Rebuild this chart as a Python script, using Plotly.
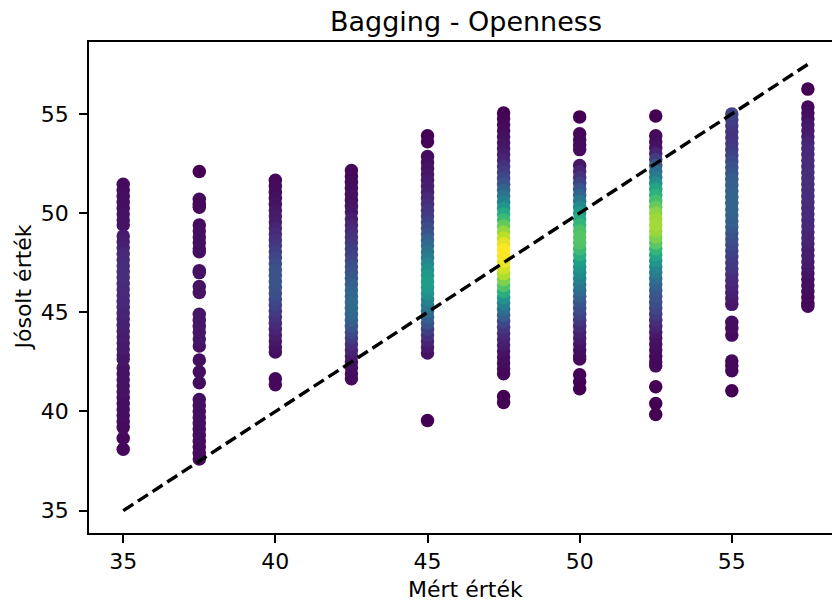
import plotly.graph_objects as go

measured_levels = [35, 37.5, 40, 42.5, 45, 47.5, 50, 52.5, 55, 57.5]

col_35 = [(51.45,0.03),(51.15,0.03),(50.85,0.04),(50.55,0.04),(50.25,0.04),(49.95,0.05),(49.65,0.05),(49.4,0.05),
          (48.85,0.07),(48.55,0.08),(48.25,0.09),(47.95,0.11),(47.65,0.12),(47.35,0.13),(47.05,0.13),(46.75,0.13),
          (46.45,0.12),(46.15,0.12),(45.85,0.11),(45.55,0.11),(45.25,0.10),(44.95,0.10),(44.65,0.09),(44.35,0.09),
          (44.05,0.08),(43.75,0.08),(43.45,0.07),(43.15,0.07),(42.85,0.06),(42.65,0.06),
          (42.2,0.05),(41.9,0.05),(41.6,0.05),(41.3,0.05),(41.0,0.05),(40.7,0.04),(40.4,0.04),(40.1,0.04),
          (39.8,0.04),(39.5,0.03),(39.2,0.03),(38.65,0.02),(38.1,0.02)]
col_37_5 = [(52.1,0.0),(50.7,0.02),(50.45,0.02),(50.3,0.02),
            (49.4,0.03),(49.1,0.04),(48.8,0.04),(48.5,0.04),(48.2,0.04),(48.05,0.04),
            (47.1,0.05),(47.0,0.05),(46.3,0.05),(46.0,0.05),
            (44.9,0.06),(44.6,0.06),(44.3,0.06),(44.0,0.06),(43.65,0.06),(43.3,0.05),
            (42.6,0.04),(42.0,0.04),(41.45,0.03),
            (40.6,0.04),(40.3,0.04),(40.0,0.04),(39.7,0.04),(39.4,0.04),(39.1,0.04),(38.8,0.04),
            (38.5,0.03),(38.2,0.03),(37.9,0.03),(37.6,0.02)]
col_40 = [(51.65,0.02),(51.35,0.03),(51.05,0.03),(50.75,0.04),(50.45,0.05),(50.15,0.06),(49.85,0.07),(49.55,0.08),
          (49.25,0.10),(48.95,0.12),(48.65,0.14),(48.35,0.16),(48.05,0.19),(47.75,0.21),(47.45,0.23),(47.15,0.25),
          (46.85,0.26),(46.55,0.26),(46.25,0.25),(45.95,0.24),(45.65,0.22),(45.35,0.20),(45.05,0.17),(44.75,0.14),
          (44.45,0.12),(44.15,0.10),(43.85,0.08),(43.55,0.06),(43.25,0.05),(43.0,0.04),(41.65,0.02),(41.35,0.02)]
col_42_5 = [(52.15,0.02),(51.85,0.02),(51.55,0.03),(51.25,0.03),(50.95,0.04),(50.65,0.04),(50.35,0.05),(50.05,0.06),
            (49.7,0.08),(49.4,0.10),(49.1,0.12),(48.8,0.14),(48.5,0.16),(48.2,0.18),(47.9,0.20),(47.6,0.22),
            (47.3,0.24),(47.0,0.26),(46.7,0.28),(46.4,0.30),(46.1,0.32),(45.8,0.33),(45.5,0.34),(45.2,0.34),
            (44.9,0.33),(44.6,0.30),(44.3,0.26),(44.0,0.22),(43.7,0.17),(43.4,0.13),(43.1,0.10),(42.8,0.07),
            (42.5,0.05),(42.2,0.04),(41.9,0.03),(41.65,0.03)]
col_45 = [(53.9,0.0),(53.6,0.01),(52.85,0.03),(52.55,0.04),(52.25,0.05),(51.95,0.06),(51.65,0.07),(51.35,0.08),
          (51.05,0.09),(50.75,0.11),(50.45,0.13),(50.15,0.15),(49.85,0.17),(49.55,0.20),(49.25,0.23),(48.95,0.26),
          (48.65,0.30),(48.35,0.34),(48.05,0.38),(47.75,0.42),(47.45,0.46),(47.15,0.50),(46.85,0.53),(46.55,0.55),
          (46.25,0.53),(45.95,0.50),(45.65,0.45),(45.35,0.40),(45.05,0.35),(44.75,0.30),(44.45,0.25),(44.15,0.19),
          (43.85,0.14),(43.55,0.10),(43.25,0.07),(42.95,0.05),(39.55,0.0)]
col_47_5 = [(55.05,0.0),(54.75,0.01),(54.45,0.02),(54.15,0.03),(53.85,0.04),(53.55,0.05),(53.25,0.06),(52.95,0.08),
            (52.65,0.10),(52.35,0.14),(52.05,0.18),(51.75,0.22),(51.45,0.26),(51.15,0.32),(50.85,0.38),(50.55,0.44),
            (50.25,0.52),(49.95,0.60),(49.65,0.68),(49.35,0.76),(49.05,0.84),(48.75,0.90),(48.45,0.96),(48.15,1.0),
            (47.85,0.99),(47.55,0.97),(47.25,0.93),(46.95,0.88),(46.65,0.80),(46.35,0.72),(46.05,0.62),(45.75,0.52),
            (45.45,0.44),(45.15,0.36),(44.85,0.30),(44.55,0.22),(44.25,0.16),(43.95,0.12),(43.65,0.09),(43.35,0.07),
            (43.05,0.05),(42.75,0.04),(42.45,0.03),(42.15,0.02),(41.9,0.02),(40.75,0.0),(40.45,0.0)]
col_50 = [(54.85,0.0),(54.0,0.02),(53.7,0.02),(53.45,0.03),(53.2,0.03),(52.4,0.06),(52.1,0.10),(51.8,0.14),
          (51.5,0.20),(51.2,0.26),(50.9,0.32),(50.6,0.40),(50.3,0.48),(50.0,0.54),(49.7,0.60),(49.4,0.66),
          (49.1,0.71),(48.8,0.73),(48.5,0.72),(48.2,0.68),(47.9,0.62),(47.6,0.56),(47.3,0.52),(47.0,0.48),
          (46.7,0.44),(46.4,0.39),(46.1,0.34),(45.8,0.30),(45.5,0.27),(45.2,0.24),(44.9,0.20),(44.6,0.16),
          (44.3,0.12),(44.0,0.09),(43.7,0.07),(43.4,0.05),(43.1,0.04),(42.8,0.03),(42.65,0.03),
          (41.85,0.01),(41.5,0.0),(41.15,0.0)]
col_52_5 = [(54.9,0.0),(53.9,0.02),(53.6,0.03),(53.3,0.05),(53.0,0.10),(52.7,0.18),(52.4,0.28),(52.1,0.36),
            (51.8,0.42),(51.5,0.50),(51.2,0.58),(50.9,0.64),(50.6,0.70),(50.3,0.76),(50.0,0.82),(49.7,0.85),
            (49.4,0.86),(49.1,0.84),(48.8,0.80),(48.5,0.74),(48.2,0.66),(47.9,0.58),(47.6,0.52),(47.3,0.46),
            (47.0,0.42),(46.7,0.36),(46.4,0.31),(46.1,0.28),(45.8,0.26),(45.5,0.24),(45.2,0.21),(44.9,0.17),
            (44.6,0.13),(44.3,0.10),(44.0,0.07),(43.7,0.05),(43.4,0.04),(43.1,0.03),(42.8,0.02),(42.5,0.02),
            (42.3,0.02),(41.25,0.0),(40.4,0.0),(39.85,0.0)]
col_55 = [(55.0,0.20),(54.7,0.18),(54.4,0.16),(54.1,0.15),(53.8,0.15),(53.5,0.16),(53.2,0.18),(52.9,0.20),
          (52.6,0.23),(52.3,0.25),(52.0,0.27),(51.7,0.29),(51.4,0.30),(51.1,0.31),(50.8,0.32),(50.5,0.32),
          (50.2,0.32),(49.9,0.31),(49.6,0.30),(49.3,0.28),(49.0,0.26),(48.7,0.24),(48.4,0.22),(48.1,0.20),
          (47.8,0.18),(47.5,0.17),(47.2,0.15),(46.9,0.13),(46.6,0.12),(46.3,0.10),(46.0,0.09),(45.7,0.07),
          (45.4,0.06),(44.5,0.04),(44.2,0.04),(43.85,0.03),(42.55,0.02),(42.3,0.02),(42.05,0.02),(41.05,0.0)]
col_57_5 = [(56.25,0.0),(55.35,0.02),(55.05,0.03),(54.75,0.04),(54.45,0.06),(54.15,0.07),(53.85,0.08),(53.55,0.10),
            (53.25,0.11),(52.95,0.11),(52.65,0.12),(52.35,0.12),(52.05,0.13),(51.75,0.13),(51.45,0.13),(51.15,0.13),
            (50.85,0.13),(50.55,0.12),(50.25,0.12),(49.95,0.12),(49.65,0.11),(49.35,0.11),(49.05,0.10),(48.75,0.10),
            (48.45,0.09),(48.15,0.08),(47.85,0.08),(47.55,0.07),(47.25,0.06),(46.95,0.05),(46.65,0.04),(46.35,0.04),
            (46.05,0.03),(45.75,0.02),(45.45,0.02),(45.3,0.02)]

columns = [col_35, col_37_5, col_40, col_42_5, col_45, col_47_5, col_50, col_52_5, col_55, col_57_5]

ideal_line = [35, 57.5]
x_ticks = [35, 40, 45, 50, 55]
y_ticks = [35, 40, 45, 50, 55]

pts = []
for xv, col in zip(measured_levels, columns):
    for yv, cv in col:
        pts.append((cv, xv, yv))
pts.sort()  # low density drawn first, dense points on top
xs = [p[1] for p in pts]
ys = [p[2] for p in pts]
cs = [p[0] for p in pts]

FONT = "DejaVu Sans"
W, H = 832, 601
L, T, B = 89, 42, 68
PW, PH = W - L, H - T - B

fig = go.Figure()
fig.add_trace(go.Scatter(
    x=xs, y=ys, mode="markers",
    marker=dict(size=13.5, color=cs, colorscale="Viridis", cmin=0, cmax=1,
                line=dict(width=0), opacity=1),
    showlegend=False, hoverinfo="x+y"))
fig.add_trace(go.Scatter(
    x=ideal_line, y=ideal_line, mode="lines",
    line=dict(color="black", width=3.4, dash="12px,5.5px"),
    showlegend=False, hoverinfo="skip"))

axis_common = dict(showgrid=False, zeroline=False, showline=True, linecolor="black", linewidth=1.8,
                   ticks="outside", ticklen=8, tickwidth=1.8, tickcolor="black",
                   tickfont=dict(size=22, family=FONT, color="black"))

fig.update_layout(
    width=W, height=H,
    margin=dict(l=L, r=0, t=T, b=B, pad=0),
    paper_bgcolor="white", plot_bgcolor="white",
    font=dict(family=FONT, size=22, color="black"),
    title=dict(text="Bagging - Openness", x=466 / W, xanchor="center", xref="container",
               y=1 - 22 / H, yanchor="middle", font=dict(size=27, family=FONT, color="black")),
    xaxis=dict(range=[33.875, 58.293], tickvals=x_ticks, ticktext=[str(v) for v in x_ticks],
               mirror=True, ticklabelstandoff=0, **axis_common),
    yaxis=dict(range=[33.875, 58.625], tickvals=y_ticks, ticktext=[str(v) for v in y_ticks],
               mirror=False, ticklabelstandoff=6, **axis_common),
    annotations=[
        dict(text="Mért érték", xref="paper", yref="paper",
             x=(465 - L) / PW, y=-(589 - (H - B)) / PH, xanchor="center", yanchor="middle",
             showarrow=False, font=dict(size=22, family=FONT, color="black")),
        dict(text="Jósolt érték", xref="paper", yref="paper", textangle=-90,
             x=-(L - 23) / PW, y=0.5, xanchor="center", yanchor="middle",
             showarrow=False, font=dict(size=22, family=FONT, color="black")),
    ],
)

fig.write_html("out.html", config={"displayModeBar": False},
               post_script="document.body.style.margin='0px';")
